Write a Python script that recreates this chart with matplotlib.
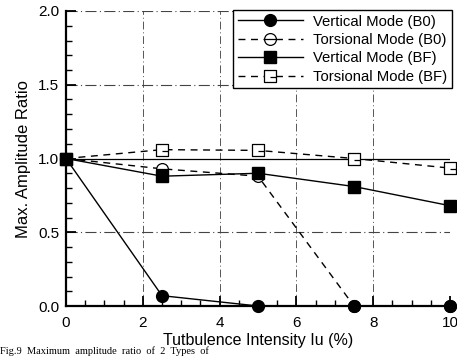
import matplotlib
matplotlib.use("Agg")
import matplotlib.pyplot as plt
from matplotlib.path import Path
import numpy as np

plt.rcParams['font.family'] = ['Liberation Sans', 'DejaVu Sans']

intensity = [0, 2.5, 5, 7.5, 10]
vert_b0 = [1.0, 0.07, 0.0, 0.0, 0.0]
tors_b0 = [1.0, 0.93, 0.88, 0.0, 0.0]
vert_bf = [1.0, 0.88, 0.90, 0.81, 0.68]
tors_bf = [1.0, 1.06, 1.055, 1.0, 0.935]
labels = ["Vertical Mode (B0)", "Torsional Mode (B0)",
          "Vertical Mode (BF)", "Torsional Mode (BF)"]
xticks = [0, 2, 4, 6, 8, 10]
yticks = [0.0, 0.5, 1.0, 1.5, 2.0]

# custom markers: open circle with bar, open square with bar
circ = Path.unit_circle()
bar = Path([[-0.9, 0.0], [0.9, 0.0]], [Path.MOVETO, Path.LINETO])
circ_bar = Path.make_compound_path(circ, bar)
sq = Path([[-1, -1], [1, -1], [1, 1], [-1, 1], [-1, -1]],
          [Path.MOVETO, Path.LINETO, Path.LINETO, Path.LINETO, Path.CLOSEPOLY])
sbar = Path([[0.0, -0.1], [1.0, -0.1]], [Path.MOVETO, Path.LINETO])
sq_bar = Path.make_compound_path(sq, sbar)

fig = plt.figure(figsize=(4.57, 3.56), dpi=100)
ax = fig.add_axes([66/457, 1-306/356, (450-66)/457, (306-11)/356])

ax.set_xlim(0, 10)
ax.set_ylim(0, 2.0)

# grid
for gx in [2, 4, 6, 8, 10]:
    ax.axvline(gx, color='#555555', lw=0.7, ls=(0, (8, 3, 1, 3)), zorder=1)
for gy in [0.5, 1.5, 2.0]:
    ax.axhline(gy, color='#444444', lw=0.8, ls=(0, (10, 3, 1, 3)), zorder=1)
ax.axhline(1.0, color='black', lw=0.9, zorder=1)

dash = (0, (5, 4))
ax.plot(intensity, vert_b0, color='black', lw=1.0, marker='o', ms=8.5,
        mfc='black', mec='black', label=labels[0], clip_on=False, zorder=3)
ax.plot(intensity, tors_b0, color='black', lw=1.0, ls=dash, marker=circ_bar, ms=8.5,
        mfc='white', mec='black', mew=0.9, label=labels[1], clip_on=False, zorder=2)
ax.plot(intensity, vert_bf, color='black', lw=1.0, marker='s', ms=8,
        mfc='black', mec='black', label=labels[2], clip_on=False, zorder=4)
ax.plot(intensity, tors_bf, color='black', lw=1.0, ls=dash, marker=sq_bar, ms=8,
        mfc='white', mec='black', mew=0.9, label=labels[3], clip_on=False, zorder=3)

for s in ['top', 'right']:
    ax.spines[s].set_visible(False)
for s in ['left', 'bottom']:
    ax.spines[s].set_linewidth(1.6)

ax.set_xticks(xticks)
ax.set_xticklabels([str(t) for t in xticks])
ax.set_yticks(yticks)
ax.set_yticklabels([f"{t:.1f}" for t in yticks])
ax.set_xticks(np.arange(0, 10.01, 0.5), minor=True)
ax.set_yticks(np.arange(0, 2.001, 0.1), minor=True)
ax.tick_params(which='major', direction='in', length=7, width=1.3, labelsize=11,
               top=False, right=False)
ax.tick_params(axis='x', which='major', pad=7)
ax.tick_params(axis='y', which='major', pad=5)
ax.tick_params(which='minor', direction='in', length=4, width=1.0,
               top=False, right=False)

ax.set_xlabel("Tutbulence Intensity Iu (%)", fontsize=11.5, labelpad=2)
ax.set_ylabel("Max. Amplitude Ratio", fontsize=12, labelpad=5)

leg = ax.legend(loc='upper right', bbox_to_anchor=(1.005, 1.003), borderaxespad=0,
                fontsize=10.7, handlelength=4.4, labelspacing=0.3, borderpad=0.3,
                handletextpad=0.7, fancybox=False, framealpha=1,
                edgecolor='black')
leg.get_frame().set_linewidth(1.0)
leg.set_zorder(10)

fig.text(0.0, 0.0, "Fig.9  Maximum  amplitude  ratio  of  2  Types  of",
         fontsize=7.5, family=['Liberation Serif', 'DejaVu Serif'], va='bottom', ha='left')

fig.savefig("out.png", dpi=100)
